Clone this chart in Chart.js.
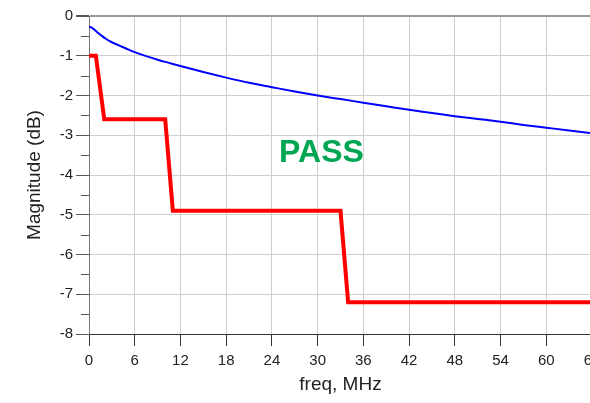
<!DOCTYPE html>
<html>
<head>
<meta charset="utf-8">
<script src="https://cdn.jsdelivr.net/npm/chart.js@4/dist/chart.umd.min.js"></script>
<style>
html,body{margin:0;padding:0;background:#fff;overflow:hidden}
#wrap{width:590px;height:403px;overflow:hidden}
</style>
</head>
<body>
<div id="wrap"><canvas id="magChart" width="600" height="403"></canvas></div>

<script>

/* =========================
   DATA
========================= */

let xTicks = [0,6,12,18,24,30,36,42,48,54,60,66]
let yTicks = [0,-1,-2,-3,-4,-5,-6,-7,-8]

let measFreq = [0,0.35,0.8,1.2,1.7,2.1,3,4,5,6,7.5,9,10.5,12,15,18,21,24,27,30,33,36,39,42,45,48,51,54,57,60,63,66]
let measMag = [-0.27,-0.29,-0.36,-0.43,-0.5,-0.56,-0.66,-0.745,-0.83,-0.91,-1.01,-1.1,-1.18,-1.26,-1.41,-1.55,-1.68,-1.79,-1.9,-2.0,-2.09,-2.18,-2.27,-2.36,-2.44,-2.52,-2.59,-2.66,-2.74,-2.81,-2.88,-2.95]

let limitFreq = [0,0.9,2,10,11,33,34,66]
let limitMag = [-1,-1,-2.6,-2.6,-4.9,-4.9,-7.2,-7.2]

let verdict = "PASS"
let verdictAt = [30.5,-3.45]


/* =========================
   PLUGINS
========================= */

// short ticks at half dB steps
let minorTicks = {
id:"minorTicks",
afterDraw(c){
let y = c.scales.y
let ctx = c.ctx
ctx.save()
ctx.strokeStyle = "#555"
ctx.lineWidth = 1
for(let i=0;i<yTicks.length-1;i++){
let v = (yTicks[i]+yTicks[i+1])/2
let py = Math.round(y.getPixelForValue(v))+0.5
ctx.beginPath()
ctx.moveTo(y.right-8,py)
ctx.lineTo(y.right,py)
ctx.stroke()
}
ctx.restore()
}
}

let verdictText = {
id:"verdictText",
afterDatasetsDraw(c){
let ctx = c.ctx
let px = c.scales.x.getPixelForValue(verdictAt[0])
let py = c.scales.y.getPixelForValue(verdictAt[1])
ctx.save()
ctx.fillStyle = "#00a651"
ctx.font = "bold 32px 'Liberation Sans', Arial, sans-serif"
ctx.textAlign = "center"
ctx.textBaseline = "middle"
ctx.fillText(verdict,px,py)
ctx.restore()
}
}


/* =========================
   CHART
========================= */

let tickFont = {family:"'Liberation Sans', Arial, sans-serif",size:15}
let titleFont = {family:"'Liberation Sans', Arial, sans-serif",size:19}

let chart = new Chart(document.getElementById("magChart"),{
type:"line",
data:{
datasets:[
{
label:"limit",
data:limitFreq.map((f,i)=>({x:f,y:limitMag[i]})),
borderColor:"#ff0000",
borderWidth:4,
pointRadius:0,
tension:0,
borderJoinStyle:"miter"
},
{
label:"measured",
data:measFreq.map((f,i)=>({x:f,y:measMag[i]})),
borderColor:"#0000ff",
borderWidth:2,
pointRadius:0,
cubicInterpolationMode:"monotone"
}
]
},
options:{
responsive:false,
animation:false,
layout:{padding:{top:16,right:8,left:0,bottom:0}},
plugins:{
legend:{display:false},
tooltip:{enabled:false}
},
scales:{
x:{
type:"linear",
min:0,
max:66,
afterBuildTicks(s){ s.ticks = xTicks.map(v=>({value:v})) },
afterFit(s){ s.height = 69; s.paddingRight = 0; s.paddingLeft = 0 },
ticks:{color:"#222",font:tickFont,padding:6,maxRotation:0},
grid:{color:"#cfcfcf",tickColor:"#333",tickLength:12},
border:{color:"#333",width:1},
title:{display:true,text:"freq, MHz",color:"#222",font:titleFont,padding:{top:0,bottom:7}}
},
y:{
min:-8,
max:0,
afterBuildTicks(s){ s.ticks = yTicks.map(v=>({value:v})) },
afterFit(s){ s.width = 89 },
ticks:{color:"#222",font:tickFont,padding:3},
grid:{
color:(ctx)=>ctx.tick && ctx.tick.value===0 ? "#999" : "#cfcfcf",
lineWidth:(ctx)=>ctx.tick && ctx.tick.value===0 ? 2 : 1,
tickColor:"#555",
tickLength:13
},
border:{color:"#777",width:1},
title:{display:true,text:"Magnitude (dB)",color:"#222",font:titleFont,padding:{top:23.5,bottom:0}}
}
}
},
plugins:[minorTicks,verdictText]
})

</script>
</body>
</html>
